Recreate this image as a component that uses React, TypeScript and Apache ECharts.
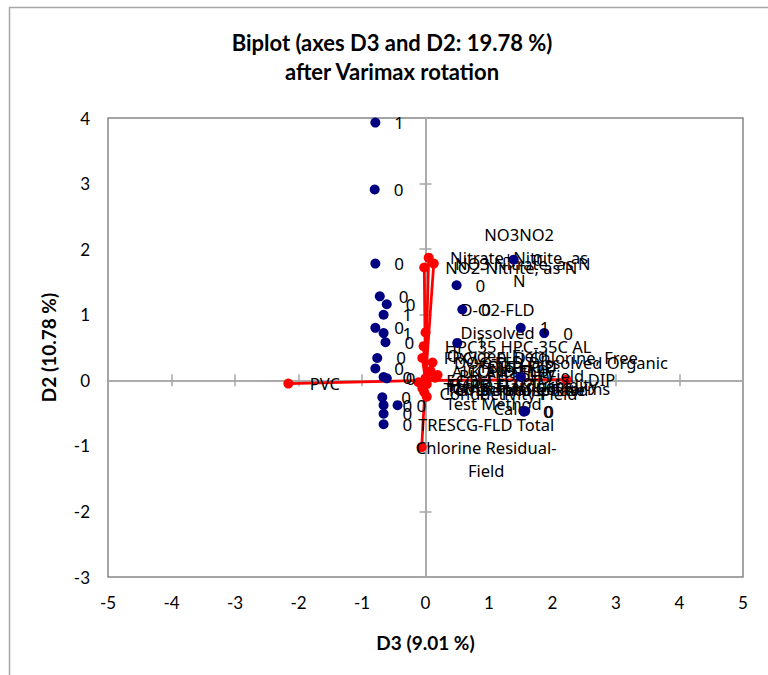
import React, { useEffect, useRef } from "react";
import * as echarts from "echarts";

// ---- text ----
const titleLines = ["Biplot (axes D3 and D2: 19.78 %)", "after Varimax rotation"];
const xAxisName = "D3 (9.01 %)";
const yAxisName = "D2 (10.78 %)";

// ---- axis ranges ----
const xRange = [-5, 5];
const yRange = [-3, 4];
const tickStep = 1;

// ---- observations (navy points) ----
const obsX = [-0.79, -0.8, -0.79, 0.49, 1.39, 0.58, 1.5, 1.87, 0.5, 1.5, 1.57, 1.55, -0.72, -0.61, -0.66, -0.79, -0.66, -0.63, -0.76, -0.79, -0.66, -0.61, -0.68, -0.66, -0.44, -0.66, -0.66];
const obsY = [3.93, 2.91, 1.78, 1.45, 1.84, 1.08, 0.8, 0.72, 0.57, 0.05, -0.47, -0.48, 1.28, 1.16, 1.0, 0.8, 0.72, 0.58, 0.34, 0.18, 0.05, 0.03, -0.26, -0.38, -0.38, -0.51, -0.67];
const obsLabels = ["1", "0", "0", "0", "0", "0", "1", "0", "1", "0", "0", "0", "0", "0", "1", "0", "1", "0", "0", "0", "0", "0", "0", "0", "0", "0", "0"];

// ---- variables (red vectors) ----
const varX = [-2.16, 2.22, -0.06, 0.05, 0.13, -0.02, 0.0, -0.03, -0.05, 0.11, 0.15, 0.19, 0.0, -0.11, 0.02, -0.05, -0.02, 0.02, 0.08];
const varY = [-0.05, 0.01, -1.02, 1.87, 1.78, 1.72, 0.73, 0.52, 0.34, 0.27, 0.04, 0.08, 0.03, -0.03, -0.06, -0.12, -0.18, -0.25, 0.14];
const varNames = [
  "PVC",
  "DIP",
  "TRESCG-FLD Total\nChlorine Residual-\nField",
  "NO3NO2\nNitrate+Nitrite, as\nN",
  "NO3 Nitrate, as N",
  "NO2-Nitrite, as N",
  "D-O2-FLD\nDissolved\nOxygen-Field",
  "HPC35 HPC-35C AL",
  "FRCL2-FLD Chlorine, Free",
  "DOC-FLD Dissolved Organic",
  "ORTHOP\nOrthophosphate",
  "PH-FLD pH-Field",
  "TEMP-FLD\nTemperature-Field",
  "COND-FLD\nConductivity-Field",
  "TURB-FLD Turbidity",
  "TCOLI Total Coliforms",
  "ECOLI E. coli\nTest Method",
  "HARD Hardness,\nCalc.",
  "ALK Alkalinity",
];

// label placement tweaks (style only)
const labelDistanceOverride: Record<string, number> = {
  "TRESCG-FLD Total\nChlorine Residual-\nField": -12,
};

const axisFont = "Lato";
const labelFont = "Noto Sans";
const labelSize = 16.5;
const labelLineHeight = 23;

export default function App() {
  const ref = useRef<HTMLDivElement>(null);
  useEffect(() => {
    if (!ref.current) return;
    const chart = echarts.init(ref.current, null, { renderer: "svg" });

    const canvas = document.createElement("canvas");
    const ctx = canvas.getContext("2d")!;
    ctx.font = `${labelSize}px "${labelFont}"`;

    const varData = varX.map((x, i) => {
      const name = varNames[i];
      const lines = name.split("\n");
      const w = Math.ceil(Math.max(...lines.map((l) => ctx.measureText(l).width))) + 2;
      const dist = labelDistanceOverride[name] ?? 15;
      return {
        value: [x, varY[i]],
        name,
        label: {
          show: true,
          position: "right",
          distance: dist,
          formatter: lines.map((l) => `{c|${l}}`).join("\n"),
          rich: {
            c: {
              width: w,
              align: "center",
              fontSize: labelSize,
              fontFamily: labelFont,
              lineHeight: labelLineHeight,
              color: "#000000",
            },
          },
        },
      };
    });

    const obsData = obsX.map((x, i) => [x, obsY[i], obsLabels[i]]);

    const lineData = varX.map((x, i) => ({ coords: [[0, 0], [x, varY[i]]] }));

    const zeroLine = { show: true, onZero: true, lineStyle: { color: "#a6a6a6", width: 1.5 } };
    const zeroTick = { show: true, length: 6, lineStyle: { color: "#a6a6a6", width: 1.5 } };

    const baseX = { type: "value", min: xRange[0], max: xRange[1], interval: tickStep, splitLine: { show: false } };
    const baseY = { type: "value", min: yRange[0], max: yRange[1], interval: tickStep, splitLine: { show: false } };

    chart.setOption({
      animation: false,
      backgroundColor: "#ffffff",
      grid: {
        left: 108,
        right: 25,
        top: 118,
        bottom: 98,
        show: true,
        borderColor: "#868686",
        borderWidth: 1.5,
        containLabel: false,
      },
      graphic: [
        {
          type: "rect",
          silent: true,
          shape: { x: 9.5, y: 7.5, width: 820, height: 720 },
          style: { fill: "none", stroke: "#a6a6a6", lineWidth: 1.5 },
        },
        {
          type: "text",
          x: 392,
          y: 57,
          silent: true,
          style: {
            text: titleLines.join("\n"),
            align: "center",
            verticalAlign: "middle",
            fontFamily: axisFont,
            fontWeight: "bold",
            fontSize: 22,
            lineHeight: 29,
            fill: "#000000",
          },
        },
      ],
      xAxis: [
        {
          ...baseX,
          position: "bottom",
          axisLine: { show: false },
          axisTick: { show: false },
          axisLabel: { margin: 17, fontSize: 17, fontFamily: axisFont, color: "#000000" },
          name: xAxisName,
          nameLocation: "middle",
          nameGap: 56,
          nameTextStyle: { fontFamily: axisFont, fontWeight: "bold", fontSize: 19, color: "#000000" },
        },
        { ...baseX, position: "bottom", axisLine: zeroLine, axisTick: zeroTick, axisLabel: { show: false } },
        { ...baseX, position: "top", axisLine: zeroLine, axisTick: zeroTick, axisLabel: { show: false } },
      ],
      yAxis: [
        {
          ...baseY,
          position: "left",
          axisLine: { show: false },
          axisTick: { show: false },
          axisLabel: { margin: 18, fontSize: 17, fontFamily: axisFont, color: "#000000" },
          name: yAxisName,
          nameLocation: "middle",
          nameGap: 50,
          nameTextStyle: { fontFamily: axisFont, fontWeight: "bold", fontSize: 19, color: "#000000" },
        },
        { ...baseY, position: "left", axisLine: zeroLine, axisTick: zeroTick, axisLabel: { show: false } },
        { ...baseY, position: "right", axisLine: zeroLine, axisTick: zeroTick, axisLabel: { show: false } },
      ],
      series: [
        {
          type: "lines",
          coordinateSystem: "cartesian2d",
          xAxisIndex: 0,
          yAxisIndex: 0,
          data: lineData,
          lineStyle: { color: "#ff0000", width: 2.75, opacity: 1 },
          silent: true,
          z: 2,
        },
        {
          type: "scatter",
          name: "Variables",
          xAxisIndex: 0,
          yAxisIndex: 0,
          data: varData,
          symbol: "circle",
          symbolSize: 10,
          itemStyle: { color: "#ff0000", opacity: 1 },
          z: 3,
        },
        {
          type: "scatter",
          name: "Observations",
          xAxisIndex: 0,
          yAxisIndex: 0,
          data: obsData,
          symbol: "circle",
          symbolSize: 10,
          itemStyle: { color: "#000080", opacity: 1 },
          label: {
            show: true,
            position: "right",
            distance: 14,
            formatter: (p: any) => p.value[2],
            fontSize: 17,
            fontFamily: labelFont,
            color: "#000000",
          },
          z: 4,
        },
      ],
    });
    return () => chart.dispose();
  }, []);
  return <div ref={ref} style={{ position: "absolute", left: 0, top: 0, width: 768, height: 675 }} />;
}
